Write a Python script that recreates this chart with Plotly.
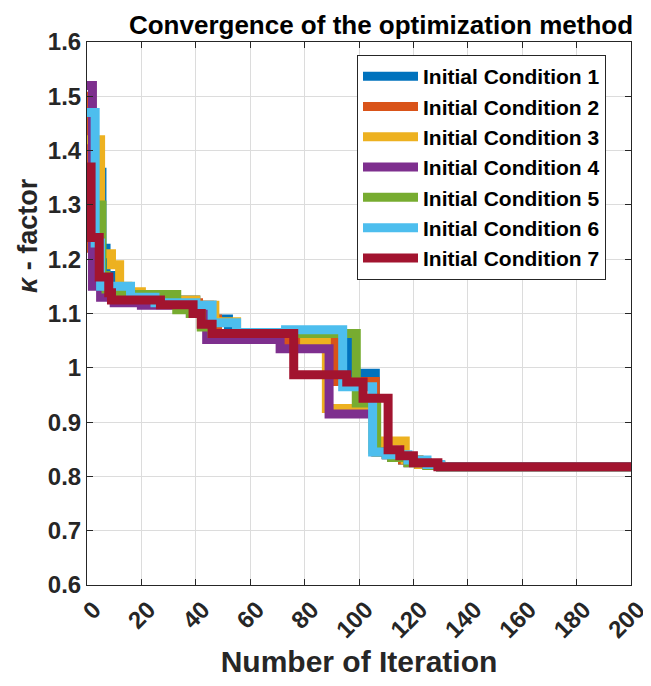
import plotly.graph_objects as go

# ---- data (step breakpoints) ----
names = ["Initial Condition 1", "Initial Condition 2", "Initial Condition 3",
         "Initial Condition 4", "Initial Condition 5", "Initial Condition 6",
         "Initial Condition 7"]
colors = ["#0072BD", "#D95319", "#EDB120", "#7E2F8E", "#77AC30", "#4DBEEE", "#A2142F"]

ic1_x = [0, 5.5, 7, 10, 15, 25, 40, 46, 52, 96, 106, 110, 116, 122, 130, 200]
ic1_y = [1.36, 1.22, 1.17, 1.14, 1.13, 1.125, 1.115, 1.09, 1.063, 0.99, 0.85, 0.84, 0.83, 0.822, 0.818, 0.818]

ic2_x = [0, 1, 3, 8, 15, 30, 41, 45, 48, 73, 92, 106, 110, 116, 122, 130, 200]
ic2_y = [1.50, 1.22, 1.16, 1.135, 1.125, 1.12, 1.115, 1.09, 1.063, 1.05, 0.975, 0.85, 0.84, 0.83, 0.822, 0.818, 0.818]

ic3_x = [0, 5, 9, 12, 15, 20, 40, 47, 55, 80, 88, 105, 108, 117, 122, 130, 200]
ic3_y = [1.42, 1.21, 1.19, 1.15, 1.14, 1.125, 1.115, 1.085, 1.063, 1.05, 0.925, 0.85, 0.865, 0.83, 0.822, 0.818, 0.818]

ic4_x = [0, 2, 5, 10, 20, 38, 44, 71, 89, 106, 112, 118, 125, 130, 200]
ic4_y = [1.52, 1.15, 1.13, 1.12, 1.115, 1.10, 1.052, 1.035, 0.915, 0.845, 0.835, 0.825, 0.82, 0.818, 0.818]

ic5_x = [0, 5.5, 7, 10, 16, 33, 38, 42, 46, 99, 106.5, 112, 118, 125, 130, 200]
ic5_y = [1.30, 1.17, 1.145, 1.14, 1.135, 1.107, 1.10, 1.075, 1.063, 0.935, 0.845, 0.835, 0.825, 0.82, 0.818, 0.818]

ic6_x = [0, 3, 5, 16, 25, 40, 46, 55, 73, 94, 105, 110, 118, 125, 130, 200]
ic6_y = [1.47, 1.23, 1.15, 1.13, 1.12, 1.115, 1.083, 1.065, 1.07, 0.965, 0.845, 0.84, 0.83, 0.822, 0.818, 0.818]

ic7_x = [0, 1.5, 4.5, 8, 9, 27, 39, 42, 46, 76, 95.5, 101.5, 110.7, 115, 120, 129, 200]
ic7_y = [1.37, 1.24, 1.167, 1.138, 1.125, 1.116, 1.10, 1.08, 1.063, 0.987, 0.974, 0.944, 0.849, 0.838, 0.825, 0.818, 0.818]

series_x = [ic1_x, ic2_x, ic3_x, ic4_x, ic5_x, ic6_x, ic7_x]
series_y = [ic1_y, ic2_y, ic3_y, ic4_y, ic5_y, ic6_y, ic7_y]

x_ticks = [0, 20, 40, 60, 80, 100, 120, 140, 160, 180, 200]
y_ticks = [0.6, 0.7, 0.8, 0.9, 1.0, 1.1, 1.2, 1.3, 1.4, 1.5, 1.6]
y_tick_labels = ["0.6", "0.7", "0.8", "0.9", "1", "1.1", "1.2", "1.3", "1.4", "1.5", "1.6"]

FONT = "Liberation Sans, Arial, Helvetica, sans-serif"

fig = go.Figure()
for nm, c, xs, ys in zip(names, colors, series_x, series_y):
    fig.add_trace(go.Scatter(x=xs, y=ys, mode="lines", name="<b>%s</b>" % nm,
                             line=dict(color=c, width=9, shape="hv")))

fig.update_layout(
    width=643, height=678,
    margin=dict(l=79, r=20, t=34, b=101, autoexpand=False),
    paper_bgcolor="white", plot_bgcolor="white",
    font=dict(family=FONT, color="#262626"),
    title=dict(text="<b>Convergence of the optimization method</b>",
               x=373 / 643, xref="container", xanchor="center",
               y=1 - 17 / 678, yref="container", yanchor="middle",
               pad=dict(t=0, b=0, l=0, r=0),
               font=dict(size=26, color="black", family=FONT)),
    showlegend=True,
    legend=dict(x=(357 - 87) / 544, y=1 - (55 - 42) / 543, xanchor="left", yanchor="top",
                bgcolor="white", bordercolor="#262626", borderwidth=1,
                font=dict(size=21, color="black", family=FONT),
                itemwidth=55, tracegroupgap=0),
    annotations=[dict(text="<b><i>κ</i> - factor</b>", textangle=-90,
                      xref="paper", yref="paper", x=(28 - 87) / 544, y=(585 - 236) / 543,
                      xanchor="center", yanchor="middle", showarrow=False,
                      font=dict(size=27, color="#262626", family=FONT))],
)
fig.update_xaxes(range=[0, 200], tickvals=x_ticks,
                 ticktext=["<b>%d</b>" % t for t in x_ticks],
                 tickangle=-45, tickfont=dict(size=24, color="#262626"),
                 ticklabelshift=7, ticklabeloverflow="allow",
                 showgrid=True, gridcolor="#dcdcdc", gridwidth=1,
                 showline=True, linecolor="#262626", linewidth=1, mirror="ticks",
                 ticks="inside", ticklen=6, tickcolor="#262626",
                 zeroline=False, automargin=False,
                 title=dict(text="<b>Number of Iteration</b>",
                            font=dict(size=30, color="#262626"), standoff=8))
fig.update_yaxes(range=[0.6, 1.6], tickvals=y_ticks,
                 ticktext=["<b>%s</b>" % t for t in y_tick_labels],
                 tickfont=dict(size=24, color="#262626"),
                 showgrid=True, gridcolor="#dcdcdc", gridwidth=1,
                 showline=True, linecolor="#262626", linewidth=1, mirror="ticks",
                 ticks="inside", ticklen=6, tickcolor="#262626",
                 zeroline=False, automargin=False)

fig.write_html("out.html")
